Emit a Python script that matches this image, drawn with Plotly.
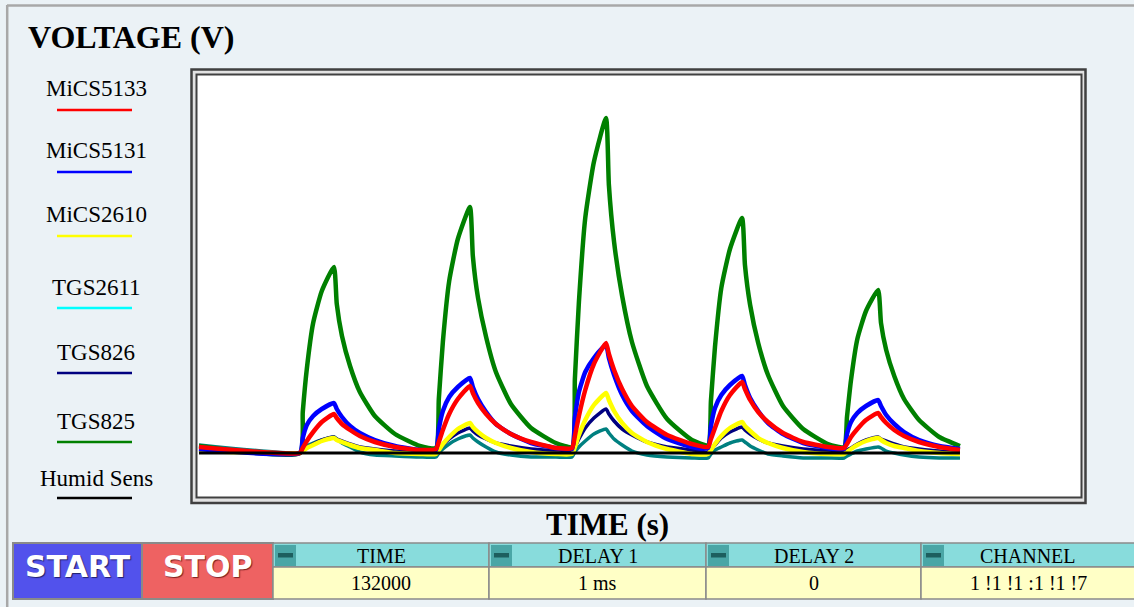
import plotly.graph_objects as go

# ---------------- data ----------------
time_s = [0,
          17.5, 18.0, 18.7, 19.8, 21.3, 23.4, 23.9, 24.8, 26.2, 27.9, 30.5, 34.0, 38.3,
          41.1, 41.6, 42.3, 43.4, 44.9, 47.0, 47.5, 48.4, 49.8, 51.5, 54.1, 57.6, 61.9,
          64.7, 65.2, 65.9, 67.0, 68.5, 70.6, 71.1, 72.0, 73.4, 75.1, 77.7, 81.2, 85.5,
          88.3, 88.8, 89.5, 90.6, 92.1, 94.2, 94.7, 95.6, 97.0, 98.7, 101.3, 104.8, 109.1,
          111.9, 112.4, 113.1, 114.2, 115.7, 117.8, 118.3, 119.2, 120.6, 122.3, 124.9, 128.4, 132.0]

tgs825 = [0.57,
          0.50, 0.91, 1.34, 1.80, 2.12, 2.36, 1.99, 1.67, 1.37, 1.11, 0.87, 0.69, 0.57,
          0.55, 1.04, 1.61, 2.22, 2.64, 2.96, 2.47, 2.05, 1.66, 1.31, 0.99, 0.75, 0.60,
          0.56, 1.24, 2.01, 2.85, 3.41, 3.85, 3.18, 2.61, 2.07, 1.61, 1.17, 0.84, 0.63,
          0.58, 1.02, 1.56, 2.15, 2.54, 2.85, 2.38, 1.98, 1.60, 1.28, 0.97, 0.74, 0.59,
          0.56, 0.86, 1.23, 1.64, 1.92, 2.13, 1.80, 1.53, 1.27, 1.04, 0.83, 0.66, 0.57]

mics5131 = [0.54,
            0.50, 0.65, 0.78, 0.87, 0.94, 1.00, 0.94, 0.86, 0.77, 0.70, 0.63, 0.57, 0.53,
            0.53, 0.74, 0.92, 1.06, 1.16, 1.25, 1.16, 1.04, 0.91, 0.79, 0.69, 0.60, 0.55,
            0.54, 0.85, 1.11, 1.31, 1.45, 1.58, 1.45, 1.28, 1.08, 0.92, 0.77, 0.64, 0.56,
            0.55, 0.77, 0.95, 1.08, 1.18, 1.27, 1.18, 1.05, 0.92, 0.80, 0.69, 0.60, 0.55,
            0.54, 0.69, 0.81, 0.90, 0.97, 1.03, 0.97, 0.88, 0.79, 0.71, 0.63, 0.57, 0.54]

mics5133 = [0.56,
            0.50, 0.55, 0.62, 0.71, 0.81, 0.89, 0.85, 0.79, 0.73, 0.67, 0.61, 0.56, 0.53,
            0.54, 0.61, 0.73, 0.89, 1.04, 1.17, 1.10, 1.00, 0.89, 0.79, 0.69, 0.61, 0.55,
            0.55, 0.67, 0.87, 1.13, 1.39, 1.60, 1.49, 1.33, 1.14, 0.97, 0.81, 0.68, 0.59,
            0.56, 0.64, 0.75, 0.92, 1.08, 1.21, 1.14, 1.03, 0.91, 0.81, 0.70, 0.61, 0.56,
            0.55, 0.59, 0.66, 0.74, 0.83, 0.90, 0.86, 0.80, 0.73, 0.67, 0.61, 0.56, 0.53]

mics2610 = [0.52,
            0.50, 0.52, 0.55, 0.58, 0.62, 0.65, 0.63, 0.61, 0.58, 0.55, 0.53, 0.50, 0.49,
            0.49, 0.53, 0.59, 0.66, 0.74, 0.80, 0.76, 0.71, 0.65, 0.60, 0.55, 0.51, 0.49,
            0.49, 0.56, 0.68, 0.83, 0.98, 1.10, 1.03, 0.92, 0.80, 0.70, 0.61, 0.54, 0.49,
            0.49, 0.53, 0.59, 0.67, 0.75, 0.81, 0.77, 0.72, 0.65, 0.60, 0.55, 0.51, 0.49,
            0.49, 0.51, 0.54, 0.58, 0.62, 0.65, 0.63, 0.60, 0.57, 0.55, 0.52, 0.50, 0.49]

tgs826 = [0.53,
          0.50, 0.52, 0.55, 0.59, 0.63, 0.66, 0.64, 0.62, 0.59, 0.56, 0.54, 0.52, 0.51,
          0.50, 0.53, 0.58, 0.64, 0.70, 0.75, 0.72, 0.68, 0.64, 0.60, 0.57, 0.54, 0.52,
          0.51, 0.56, 0.64, 0.75, 0.85, 0.94, 0.89, 0.82, 0.74, 0.68, 0.61, 0.56, 0.53,
          0.51, 0.54, 0.58, 0.65, 0.71, 0.76, 0.73, 0.69, 0.64, 0.60, 0.57, 0.54, 0.52,
          0.51, 0.53, 0.55, 0.59, 0.63, 0.66, 0.64, 0.62, 0.59, 0.56, 0.54, 0.52, 0.51]

tgs2611 = [0.58,
           0.50, 0.53, 0.57, 0.60, 0.63, 0.66, 0.64, 0.60, 0.56, 0.51, 0.48, 0.47, 0.46,
           0.46, 0.50, 0.54, 0.59, 0.64, 0.68, 0.65, 0.61, 0.56, 0.51, 0.48, 0.46, 0.46,
           0.46, 0.51, 0.56, 0.62, 0.69, 0.74, 0.70, 0.64, 0.58, 0.52, 0.48, 0.46, 0.45,
           0.45, 0.49, 0.53, 0.56, 0.60, 0.63, 0.61, 0.57, 0.53, 0.49, 0.47, 0.45, 0.45,
           0.45, 0.47, 0.49, 0.52, 0.54, 0.56, 0.55, 0.52, 0.50, 0.48, 0.46, 0.45, 0.45]

humid_time = [0, 132.0]
humid = [0.50, 0.50]

legend_names = ["MiCS5133", "MiCS5131", "MiCS2610", "TGS2611", "TGS826", "TGS825", "Humid Sens"]
legend_colors = ["#ff0000", "#0000ff", "#ffff00", "#00ffff", "#000080", "#008000", "#000000"]

panel_headers = ["TIME", "DELAY 1", "DELAY 2", "CHANNEL"]
panel_values = ["132000", "1 ms", "0", "1 !1 !1 :1 !1 !7"]

# ---------------- figure ----------------
W, H = 1134, 607
def fx(x):
    return x / W
def fy(y):
    return 1 - y / H

fig = go.Figure()

traces = [
    (time_s, tgs2611, "#008080", 3.5, "TGS2611"),
    (time_s, tgs826, "#000080", 3.5, "TGS826"),
    (time_s, mics2610, "#ffff00", 4.5, "MiCS2610"),
    (time_s, tgs825, "#008000", 4.5, "TGS825"),
    (time_s, mics5131, "#0000ff", 4.5, "MiCS5131"),
    (time_s, mics5133, "#ff0000", 4.5, "MiCS5133"),
    (humid_time, humid, "#000000", 3, "Humid Sens"),
]
for xs, ys, col, w, name in traces:
    fig.add_trace(go.Scatter(x=xs, y=ys, mode="lines", name=name,
                             line=dict(color=col, width=w, shape="spline", smoothing=0.5),
                             showlegend=False, hoverinfo="skip"))

shapes = []
def rect(x0, y0, x1, y1, fill, line_col=None, lw=0, layer="below"):
    shapes.append(dict(type="rect", xref="paper", yref="paper",
                       x0=fx(x0), x1=fx(x1), y0=fy(y1), y1=fy(y0),
                       fillcolor=fill, line=dict(color=line_col or fill, width=lw),
                       layer=layer))
def hline(x0, x1, y, col, lw):
    shapes.append(dict(type="line", xref="paper", yref="paper",
                       x0=fx(x0), x1=fx(x1), y0=fy(y), y1=fy(y),
                       line=dict(color=col, width=lw), layer="below"))
def vline(x, y0, y1, col, lw):
    shapes.append(dict(type="line", xref="paper", yref="paper",
                       x0=fx(x), x1=fx(x), y0=fy(y0), y1=fy(y1),
                       line=dict(color=col, width=lw), layer="below"))

# outer panel border
hline(7, 1134, 5.5, "#a8a8a8", 2.5)
vline(7.2, 5, 607, "#a8a8a8", 2.5)

# plot frame (double line)
rect(191.5, 69.5, 1085.5, 503, "#e2e2e2", "#404040", 2.5)
rect(196.5, 74.5, 1081.5, 497.5, "#ffffff", "#404040", 2)

# legend underlines
legend_text_y = [89, 151, 215, 287, 352, 421, 478]
legend_line_y = [110, 172, 236, 308, 373, 442, 498]
for col, ly in zip(legend_colors, legend_line_y):
    hline(57, 132, ly, col, 2.5)

# bottom control bar
rect(13, 543, 142, 599, "#5252ec", "#8a8a8a", 2)
rect(142, 543, 273, 599, "#ee6262", "#8a8a8a", 2)
col_x = [273, 489, 706, 921, 1140]
for i in range(4):
    x0, x1 = col_x[i], col_x[i + 1]
    rect(x0, 543, x1, 567, "#88dcdc", "#8a8a8a", 1.5)
    rect(x0, 567, x1, 599, "#ffffc6", "#8a8a8a", 1.5)
    rect(x0 + 2, 545, x0 + 23, 566, "#4aa6a6", "#4aa6a6", 0)
    rect(x0 + 5, 553, x0 + 20, 557.5, "#1d5e5e", "#1d5e5e", 0)

annotations = []
def text(x, y, s, size, bold=False, color="#000000", family="Liberation Serif",
         xanchor="center", shadow=None):
    f = dict(family=family, size=size, color=color)
    if shadow:
        f["shadow"] = shadow
    annotations.append(dict(x=fx(x), y=fy(y), xref="paper", yref="paper",
                            text=("<b>%s</b>" % s) if bold else s, showarrow=False,
                            xanchor=xanchor, yanchor="middle", font=f))

text(26, 37, "VOLTAGE (V)", 32, bold=True, xanchor="left")
text(607, 524, "TIME (s)", 31, bold=True)
for name, ty in zip(legend_names, legend_text_y):
    text(96, ty, name, 23)
text(78, 566, "START", 30, bold=True, color="#ffffff", family="DejaVu Sans",
     shadow="1px 1px 1px #20206a")
text(208, 566, "STOP", 30, bold=True, color="#ffffff", family="DejaVu Sans",
     shadow="1px 1px 1px #7a2020")
for i in range(4):
    cx = (col_x[i] + col_x[i + 1]) / 2 if i < 3 else 1028
    text(cx, 556, panel_headers[i], 20)
    text(cx, 583, panel_values[i], 20)

x_px_per_s = 5.765
fig.update_layout(
    width=W, height=H,
    margin=dict(l=0, r=0, t=0, b=0),
    paper_bgcolor="#ebf2f6",
    plot_bgcolor="#ffffff",
    shapes=shapes,
    annotations=annotations,
    xaxis=dict(domain=[fx(198), fx(1080)],
               range=[(198 - 199) / x_px_per_s, (1080 - 199) / x_px_per_s],
               visible=False, showgrid=False, zeroline=False, fixedrange=True),
    yaxis=dict(domain=[fy(496), fy(77)],
               range=[0.5 + (453 - 496) / 100, 0.5 + (453 - 77) / 100],
               visible=False, showgrid=False, zeroline=False, fixedrange=True),
    showlegend=False,
)

fig.write_html("out.html", config={"displayModeBar": False},
               post_script="document.body.style.margin='0';document.body.style.overflow='hidden';")
